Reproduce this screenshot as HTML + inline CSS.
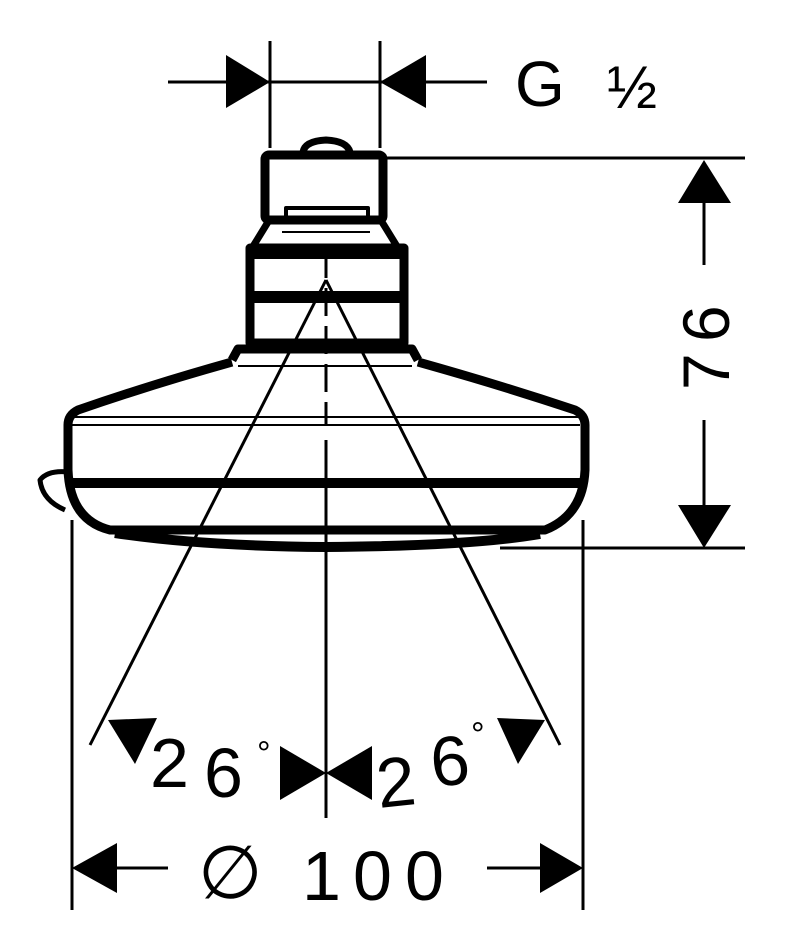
<!DOCTYPE html>
<html><head><meta charset="utf-8"><style>
html,body{margin:0;padding:0;background:#fff;}
svg{display:block;}
text{font-family:"Liberation Sans","DejaVu Sans",sans-serif;fill:#000;}
</style></head><body>
<svg width="786" height="950" viewBox="0 0 786 950" xmlns="http://www.w3.org/2000/svg">
<g stroke="#000" fill="none" stroke-width="3">
<line x1="168" y1="82" x2="487" y2="82"/>
<line x1="270" y1="41" x2="270" y2="148"/>
<line x1="380" y1="41" x2="380" y2="148"/>
<line x1="385" y1="158" x2="745" y2="158"/>
<line x1="500" y1="548" x2="745" y2="548"/>
<line x1="704" y1="200" x2="704" y2="265"/>
<line x1="704" y1="420" x2="704" y2="505"/>
<line x1="72" y1="520" x2="72" y2="910"/>
<line x1="583" y1="520" x2="583" y2="910"/>
<line x1="115" y1="868" x2="168" y2="868"/>
<line x1="487" y1="868" x2="540" y2="868"/>
<line x1="326" y1="250" x2="326" y2="425" stroke-dasharray="28,10"/>
<line x1="326" y1="440" x2="326" y2="818"/>
<line x1="326" y1="280" x2="90" y2="745"/>
<line x1="326" y1="280" x2="560" y2="745"/>
</g>
<g fill="#000">
<polygon points="226,55 270,82 226,108"/>
<polygon points="426,55 380,82 426,108"/>
<polygon points="704,160 678,203 731,203"/>
<polygon points="704,548 678,505 731,505"/>
<polygon points="72,868 117,843 117,893"/>
<polygon points="583,868 540,843 540,893"/>
<polygon points="108,720 157,718 135,764"/>
<polygon points="545,720 497,718 518,764"/>
<polygon points="326,773 280,746 280,800"/>
<polygon points="326,773 372,746 372,800"/>
</g>
<g stroke="#000" fill="none" stroke-linejoin="round">
<path d="M303,152 Q305,141 326,140 Q347,141 350,152" stroke-width="7"/>
<rect x="265" y="155" width="118" height="65" rx="4" stroke-width="9"/>
<path d="M286,222 L286,208 L368,208 L368,222" stroke-width="4"/>
<path d="M268,222 L252,248 M382,222 L398,248" stroke-width="7"/>
<line x1="282" y1="232" x2="370" y2="232" stroke-width="2"/>
<rect x="250" y="248" width="154" height="95" stroke-width="9"/>
<line x1="250" y1="253" x2="404" y2="253" stroke-width="12"/>
<line x1="250" y1="297" x2="404" y2="297" stroke-width="12"/>
<path d="M232,360 L238,349 L412,349 L418,360" stroke-width="9"/>
<line x1="238" y1="366" x2="412" y2="366" stroke-width="2"/>
<path d="M232,362 Q150,385 78,410 Q68,415 68,425 L68,470 Q70,520 110,530 L545,530 Q583,515 585,470 L585,425 Q585,415 575,410 Q500,385 418,362" stroke-width="9"/>
<line x1="72" y1="417" x2="580" y2="417" stroke-width="2"/>
<line x1="72" y1="425" x2="580" y2="425" stroke-width="2"/>
<line x1="68" y1="483" x2="585" y2="483" stroke-width="10"/>
<path d="M68,472 Q48,470 40,480 Q42,500 65,510" stroke-width="5"/>
<path d="M115,533 Q200,546 326,547 Q470,546 540,534" stroke-width="10"/>
</g>
<text x="515" y="106" font-size="64">G</text>
<text x="607" y="108" font-size="60">½</text>
<text transform="translate(729,390) rotate(-90)" font-size="66">7</text>
<text transform="translate(729,342) rotate(-90)" font-size="66">6</text>
<text transform="translate(150,787)" font-size="70">2</text>
<text transform="translate(204,797)" font-size="70">6</text>
<text x="257" y="765" font-size="34">°</text>
<text transform="translate(379,808) rotate(-6)" font-size="70">2</text>
<text transform="translate(433,787) rotate(-6)" font-size="70">6</text>
<text x="471" y="746" font-size="34">°</text>
<text transform="translate(198,898)" font-size="74">∅</text>
<text transform="translate(302,900)" font-size="70">1</text>
<text transform="translate(353,900)" font-size="70">0</text>
<text transform="translate(405,900)" font-size="70">0</text>
</svg>
</body></html>
